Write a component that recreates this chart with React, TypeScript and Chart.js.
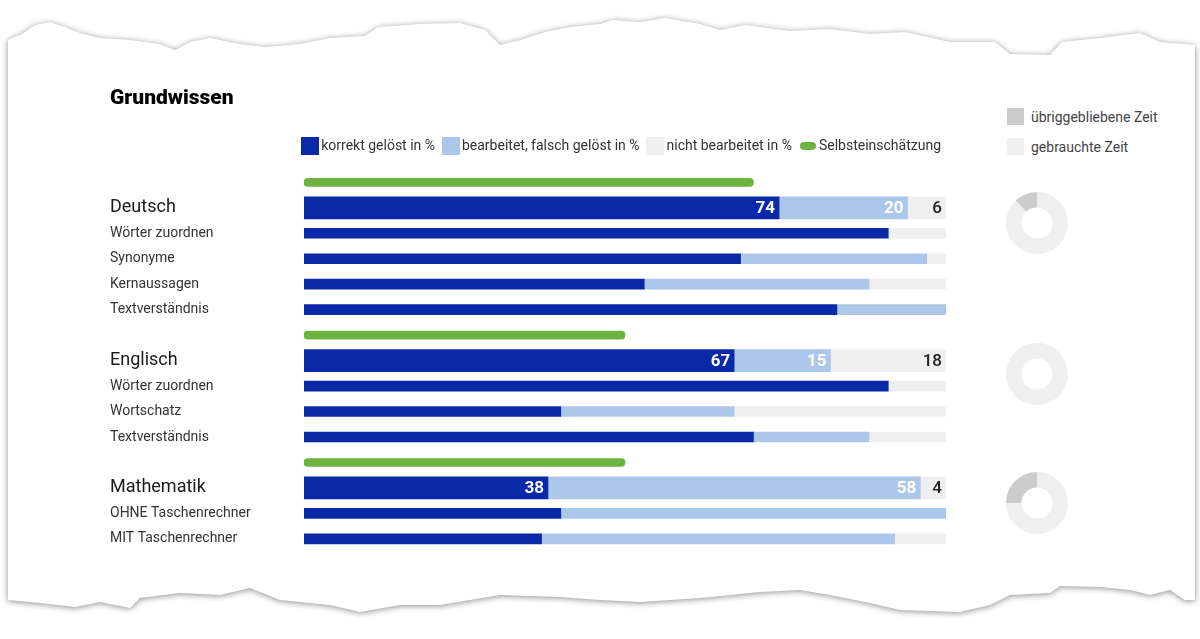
import React, { useEffect, useRef } from 'react';
import { Chart, registerables } from 'chart.js';

Chart.register(...registerables);

const FONT = 'Roboto, "Liberation Sans", Arial, sans-serif';

// ---------- data ----------
const chartTitle = 'Grundwissen';
const legendLabels = ['korrekt gelöst in %', 'bearbeitet, falsch gelöst in %', 'nicht bearbeitet in %', 'Selbsteinschätzung'];
const subjects = ['Deutsch', 'Englisch', 'Mathematik'];
const subtopics = [
  ['Wörter zuordnen', 'Synonyme', 'Kernaussagen', 'Textverständnis'],
  ['Wörter zuordnen', 'Wortschatz', 'Textverständnis'],
  ['OHNE Taschenrechner', 'MIT Taschenrechner'],
];
const selfAssessment = [70, 50, 50];
const mainCorrect = [74, 67, 38];
const mainWrong = [20, 15, 58];
const mainUnanswered = [6, 18, 4];
const subCorrect = [[91, 68, 53, 83], [91, 40, 70], [40, 37]];
const subWrong = [[0, 29, 35, 17], [0, 27, 18], [60, 55]];
const subUnanswered = [[9, 3, 12, 0], [9, 33, 12], [0, 8]];
const timeLabels = ['übriggebliebene Zeit', 'gebrauchte Zeit'];
const timeRemaining = [12, 0, 25];
const timeUsed = [88, 100, 75];

// ---------- styles ----------
const COLORS = {
  correct: '#0a29a6',
  wrong: '#adc7ea',
  none: '#efefef',
  self: '#6db33f',
  remaining: '#cccccc',
  used: '#efefef',
};
const VALUE_COLORS = ['#ffffff', '#ffffff', '#222222'];

type Row = { label: string; kind: 'self' | 'main' | 'sub'; s: number; t: number };

function buildRows(): Row[] {
  const rows: Row[] = [];
  subjects.forEach((name, s) => {
    rows.push({ label: '', kind: 'self', s, t: -1 });
    rows.push({ label: name, kind: 'main', s, t: -1 });
    subtopics[s].forEach((label, t) => rows.push({ label, kind: 'sub', s, t }));
  });
  return rows;
}

function swatch(w: number, h: number, color: string, r: number) {
  const c = document.createElement('canvas');
  c.width = w;
  c.height = h;
  const g = c.getContext('2d')!;
  g.fillStyle = color;
  g.beginPath();
  if (r > 0) {
    g.moveTo(r, 0);
    g.lineTo(w - r, 0);
    g.arc(w - r, r, r, -Math.PI / 2, Math.PI / 2);
    g.lineTo(r, h);
    g.arc(r, r, r, Math.PI / 2, (3 * Math.PI) / 2);
  } else {
    g.rect(0, 0, w, h);
  }
  g.fill();
  return c;
}

const MAIN_DATASETS = [1, 2, 3];

const valueLabelPlugin = {
  id: 'valueLabels',
  afterDatasetsDraw(chart: any) {
    const { ctx } = chart;
    ctx.save();
    ctx.textAlign = 'right';
    ctx.textBaseline = 'middle';
    MAIN_DATASETS.forEach((di, k) => {
      const meta = chart.getDatasetMeta(di);
      const data = chart.data.datasets[di].data;
      meta.data.forEach((bar: any, i: number) => {
        const v = data[i];
        if (v == null || v === 0) return;
        ctx.fillStyle = VALUE_COLORS[k];
        ctx.font = `${k < 2 ? 'bold' : '500'} 17px ${FONT}`;
        ctx.fillText(String(v), bar.x - 4, bar.y + 1);
      });
    });
    ctx.restore();
  },
};

function BarPanel() {
  const ref = useRef<HTMLCanvasElement>(null);
  useEffect(() => {
    const rows = buildRows();
    const labels = rows.map((r) => r.label);
    const pick = (kind: Row['kind'], fn: (r: Row) => number) =>
      rows.map((r) => (r.kind === kind ? fn(r) : null));
    const images = [
      swatch(18, 18, COLORS.correct, 0),
      swatch(18, 18, COLORS.wrong, 0),
      swatch(18, 18, COLORS.none, 0),
      swatch(16, 8, COLORS.self, 4),
    ];
    const fills = [COLORS.correct, COLORS.wrong, COLORS.none, COLORS.self];
    const chart = new Chart(ref.current!, {
      type: 'bar',
      data: {
        labels,
        datasets: [
          {
            label: legendLabels[3],
            data: pick('self', (r) => selfAssessment[r.s]),
            backgroundColor: COLORS.self,
            barThickness: 8,
            borderRadius: 4,
            borderSkipped: false,
          },
          { label: legendLabels[0], data: pick('main', (r) => mainCorrect[r.s]), backgroundColor: COLORS.correct, barThickness: 22 },
          { label: legendLabels[1], data: pick('main', (r) => mainWrong[r.s]), backgroundColor: COLORS.wrong, barThickness: 22 },
          { label: legendLabels[2], data: pick('main', (r) => mainUnanswered[r.s]), backgroundColor: COLORS.none, barThickness: 22 },
          { label: legendLabels[0], data: pick('sub', (r) => subCorrect[r.s][r.t]), backgroundColor: COLORS.correct, barThickness: 10 },
          { label: legendLabels[1], data: pick('sub', (r) => subWrong[r.s][r.t]), backgroundColor: COLORS.wrong, barThickness: 10 },
          { label: legendLabels[2], data: pick('sub', (r) => subUnanswered[r.s][r.t]), backgroundColor: COLORS.none, barThickness: 10 },
        ] as any,
      },
      options: {
        responsive: false,
        animation: false,
        indexAxis: 'y',
        events: [],
        layout: { padding: { left: 10, right: 14, top: 0, bottom: 0 } },
        plugins: {
          title: {
            display: true,
            text: chartTitle,
            align: 'start',
            color: '#000',
            font: { family: FONT, size: 21, weight: '900' },
            padding: { top: 6, bottom: 22.8 },
          },
          legend: {
            display: true,
            position: 'top',
            align: 'end',
            fullSize: true,
            labels: {
              usePointStyle: true,
              pointStyleWidth: 8,
              padding: 5,
              color: '#333',
              font: { family: FONT, size: 14 },
              generateLabels: () =>
                legendLabels.map((text, i) => ({
                  text: i < legendLabels.length - 1 ? text + '  ' : text,
                  pointStyle: images[i] as any,
                  fillStyle: fills[i],
                  strokeStyle: 'rgba(0,0,0,0)',
                  lineWidth: 0,
                  hidden: false,
                  fontColor: '#333',
                  datasetIndex: i,
                })),
            },
          },
          tooltip: { enabled: false },
        },
        scales: {
          x: {
            type: 'linear',
            position: 'top',
            stacked: true,
            min: 0,
            max: 100,
            grid: { display: false },
            border: { display: false },
            ticks: { display: false },
            afterFit: (s: any) => {
              s.height = 6.6;
            },
          },
          y: {
            type: 'category',
            stacked: true,
            grid: { display: false },
            border: { display: false },
            ticks: {
              autoSkip: false,
              crossAlign: 'far',
              padding: 0,
              color: (c: any) => (rows[c.index] && rows[c.index].kind === 'main' ? '#1a1a1a' : '#333'),
              font: (c: any) =>
                rows[c.index] && rows[c.index].kind === 'main'
                  ? { family: FONT, size: 18 }
                  : { family: FONT, size: 14 },
            },
            afterFit: (s: any) => {
              s.width = 194;
            },
          },
        },
      } as any,
      plugins: [valueLabelPlugin],
    });
    return () => chart.destroy();
  }, []);
  return (
    <canvas
      ref={ref}
      width={860}
      height={480}
      style={{ position: 'absolute', left: 100, top: 80, display: 'block' }}
    />
  );
}

function TimeDonut({ index, top }: { index: number; top: number }) {
  const ref = useRef<HTMLCanvasElement>(null);
  useEffect(() => {
    const chart = new Chart(ref.current!, {
      type: 'doughnut',
      data: {
        labels: [timeLabels[1], timeLabels[0]],
        datasets: [
          {
            data: [timeUsed[index], timeRemaining[index]],
            backgroundColor: [COLORS.used, COLORS.remaining],
            borderWidth: 0,
          },
        ],
      },
      options: {
        responsive: false,
        animation: false,
        events: [],
        cutout: '50%',
        plugins: { legend: { display: false }, tooltip: { enabled: false } },
      } as any,
    });
    return () => chart.destroy();
  }, [index]);
  return (
    <canvas
      ref={ref}
      width={62}
      height={62}
      style={{ position: 'absolute', left: 1006, top, display: 'block' }}
    />
  );
}

const tornTop: [number, number][] = [
  [8, 40], [22, 34], [35, 25], [50, 22], [65, 27], [80, 33], [100, 38], [130, 40], [160, 44], [175, 50],
  [190, 42], [210, 38], [240, 44], [265, 47], [300, 44], [330, 38], [365, 36], [378, 27], [420, 24],
  [460, 23], [485, 30], [500, 45], [520, 40], [545, 32], [570, 27], [600, 24], [612, 20], [640, 22],
  [665, 18], [700, 24], [720, 30], [745, 25], [790, 31], [830, 29], [870, 34], [905, 32], [950, 42],
  [995, 42], [1010, 54], [1050, 55], [1062, 42], [1100, 38], [1140, 33], [1160, 42], [1195, 45],
];
const tornBottom: [number, number][] = [
  [1195, 600], [1185, 600], [1170, 590], [1150, 595], [1130, 590], [1100, 587], [1060, 586], [1050, 593],
  [1010, 595], [990, 605], [960, 612], [900, 610], [870, 603], [830, 595], [800, 590], [760, 592],
  [700, 598], [640, 602], [600, 600], [560, 597], [500, 595], [440, 605], [400, 605], [360, 612],
  [330, 605], [280, 600], [250, 588], [220, 595], [180, 593], [140, 598], [130, 608], [100, 602],
  [75, 607], [40, 603], [8, 600],
];

export default function App() {
  const poly =
    'polygon(' + [...tornTop, ...tornBottom].map(([x, y]) => `${x}px ${y}px`).join(', ') + ')';
  const legendRow = (color: string, text: string, top: number) => (
    <div style={{ position: 'absolute', left: 1007, top, height: 17, display: 'flex', alignItems: 'center' }}>
      <div style={{ width: 17, height: 17, background: color }} />
      <span style={{ marginLeft: 7, fontFamily: FONT, fontSize: 14, color: '#444', whiteSpace: 'nowrap' }}>{text}</span>
    </div>
  );
  return (
    <div style={{ position: 'absolute', left: 0, top: 0, width: 1200, height: 639, background: '#fff', overflow: 'hidden' }}>
      <div style={{ position: 'absolute', inset: 0, filter: 'drop-shadow(0 1px 3px rgba(0,0,0,0.45))' }}>
        <div style={{ position: 'absolute', inset: 0, background: '#fff', clipPath: poly }} />
      </div>
      <BarPanel />
      {legendRow(COLORS.remaining, timeLabels[0], 108)}
      {legendRow(COLORS.used, timeLabels[1], 138)}
      <TimeDonut index={0} top={191.5} />
      <TimeDonut index={1} top={342.5} />
      <TimeDonut index={2} top={471.5} />
    </div>
  );
}
